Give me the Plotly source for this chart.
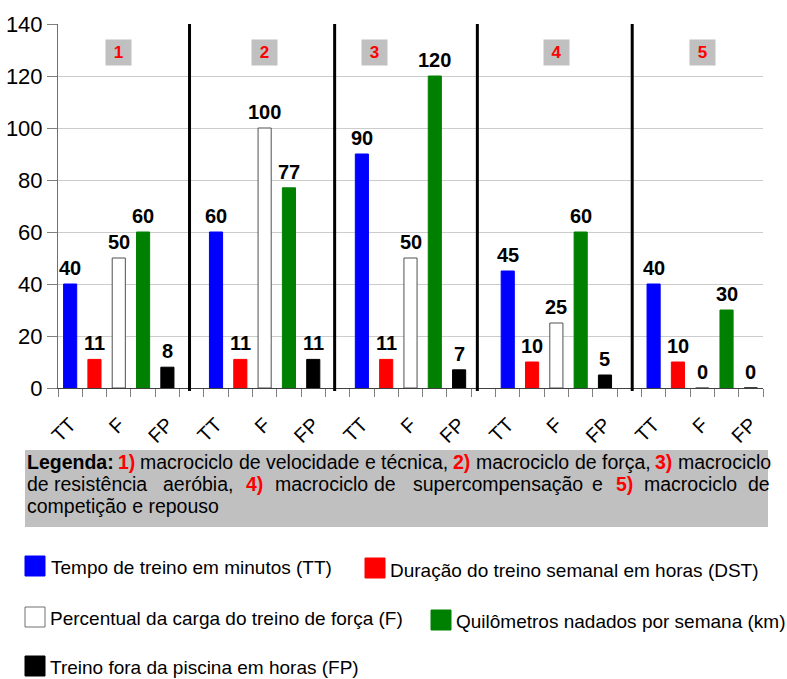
import plotly.graph_objects as go

# ---------------- data ----------------
groups = ["1", "2", "3", "4", "5"]
series_short = ["TT", "DST", "F", "km", "FP"]
series_names = [
    "Tempo de treino em minutos (TT)",
    "Duração do treino semanal em horas (DST)",
    "Percentual da carga do treino de força (F)",
    "Quilômetros nadados por semana (km)",
    "Treino fora da piscina em horas (FP)",
]
tt = [40, 60, 90, 45, 40]
dst = [11, 11, 11, 10, 10]
f_load = [50, 100, 50, 25, 0]
km = [60, 77, 120, 60, 30]
fp = [8, 11, 7, 5, 0]
slot_labels = ["TT", "", "F", "", "FP"]
y_ticks = [0, 20, 40, 60, 80, 100, 120, 140]
legend_title = "Legenda:"

series_values = [tt, dst, f_load, km, fp]
fills = ["#0000ff", "#ff0000", "#ffffff", "#008000", "#000000"]
outlines = ["#0000ff", "#ff0000", "#505050", "#008000", "#000000"]

FONT = "Liberation Sans, Arial, sans-serif"
W, H = 787, 679
L, R, T, B = 58, 763, 24, 388
SLOTS = 6
n_cat = len(groups) * SLOTS - 1


def px2x(px):
    return (px - L) / (R - L)


def py2y(py):
    return (B - py) / (B - T)


def pos(g, s):
    return g * SLOTS + s + 1


fig = go.Figure()
annotations = []
shapes = []

for s, (vals, name) in enumerate(zip(series_values, series_short)):
    xs = [pos(g, s) for g in range(len(groups))]
    fig.add_trace(go.Bar(
        x=xs, y=vals, name=name, width=0.54,
        marker=dict(color=fills[s], line=dict(color=outlines[s], width=1)),
        showlegend=False, hoverinfo="y",
    ))
    for x, v in zip(xs, vals):
        annotations.append(dict(
            x=x, y=v, xref="x", yref="y", text=str(v), showarrow=False,
            yanchor="bottom", yshift=3,
            font=dict(family=FONT, size=20, color="black", weight="bold"),
        ))

# group separators (thick black lines)
for xsep in [5.91, 11.88, 17.75, 24.12]:
    shapes.append(dict(type="line", xref="x", yref="paper", x0=xsep, x1=xsep,
                       y0=-0.008, y1=1, line=dict(color="black", width=3)))

# group number boxes
group_slot = [2, 2, 0.5, 2, 2]
for g, lab in enumerate(groups):
    annotations.append(dict(
        x=g * SLOTS + group_slot[g] + 1, y=py2y(39.5), xref="x", yref="paper",
        text=lab, showarrow=False, bgcolor="#c0c0c0", width=25, height=25,
        borderpad=0, font=dict(family=FONT, size=17, color="#ff0000", weight="bold"),
    ))

# legend box
shapes.append(dict(type="rect", xref="paper", yref="paper",
                   x0=px2x(25), x1=px2x(768), y0=py2y(450), y1=py2y(527),
                   fillcolor="#c0c0c0", line=dict(width=0), layer="below"))

BOXF = 19.5
line_segments = [
    (462, [(26, legend_title, "black", True), (117, "1)", "#ff0000", True),
           (139, "macrociclo", "black", False), (238, "de", "black", False),
           (265, "velocidade", "black", False), (364, "e", "black", False),
           (380, "técnica,", "black", False),
           (452, "2)", "#ff0000", True), (475, "macrociclo", "black", False),
           (574, "de", "black", False), (601, "força,", "black", False),
           (654, "3)", "#ff0000", True), (677, "macrociclo", "black", False)]),
    (484, [(26, "de", "black", False), (53, "resistência", "black", False),
           (162, "aeróbia,", "black", False), (245, "4)", "#ff0000", True),
           (274, "macrociclo", "black", False), (373, "de", "black", False),
           (412, "supercompensação", "black", False), (591, "e", "black", False),
           (615, "5)", "#ff0000", True), (643, "macrociclo", "black", False),
           (747, "de", "black", False)]),
    (506, [(26, "competição e repouso", "black", False)]),
]
for py, segs in line_segments:
    for px, txt, col, bold in segs:
        annotations.append(dict(
            x=px2x(px), y=py2y(py), xref="paper", yref="paper", text=txt,
            showarrow=False, xanchor="left", yanchor="middle", borderpad=0,
            font=dict(family=FONT, size=BOXF, color=col,
                      weight="bold" if bold else "normal"),
        ))

# series legend (squares + labels)
legend_items = [
    (25, 556, 50, 567),
    (365, 558, 389, 570),
    (25, 607, 49, 618),
    (431, 610, 455, 621),
    (25, 656, 49, 667),
]
for s, (sx, sy, tx, ty) in enumerate(legend_items):
    shapes.append(dict(type="rect", xref="paper", yref="paper",
                       x0=px2x(sx), x1=px2x(sx + 20), y0=py2y(sy), y1=py2y(sy + 20),
                       fillcolor=fills[s],
                       line=dict(color="#707070" if s == 2 else fills[s], width=1)))
    annotations.append(dict(
        x=px2x(tx), y=py2y(ty), xref="paper", yref="paper", text=series_names[s],
        showarrow=False, xanchor="left", yanchor="middle", borderpad=0,
        font=dict(family=FONT, size=19, color="black"),
    ))

tickvals = [pos(g, s) for g in range(len(groups)) for s in range(len(slot_labels)) if slot_labels[s]]
ticktext = [slot_labels[s] for g in range(len(groups)) for s in range(len(slot_labels)) if slot_labels[s]]

fig.update_layout(
    width=W, height=H,
    margin=dict(l=L, r=W - R, t=T, b=H - B, autoexpand=False),
    paper_bgcolor="white", plot_bgcolor="white",
    font=dict(family=FONT, color="black"),
    barmode="overlay",
    annotations=annotations, shapes=shapes,
    xaxis=dict(
        range=[0.5, n_cat + 0.5], tickmode="array", tickvals=tickvals, ticktext=ticktext,
        tickangle=-45, tickfont=dict(size=20, family=FONT, color="black"),
        ticks="outside", ticklen=16, tickcolor="rgba(0,0,0,0)", automargin=False,
        showgrid=False, zeroline=False, showline=True, linecolor="#404040", linewidth=1,
        minor=dict(tickmode="array", tickvals=[i + 0.5 for i in range(n_cat + 1)],
                   ticks="outside", ticklen=8, tickcolor="#808080", showgrid=False),
        fixedrange=True,
    ),
    yaxis=dict(
        range=[0, 140], tickmode="array", tickvals=y_ticks, automargin=False,
        tickfont=dict(size=22, family=FONT, color="black"),
        ticks="outside", ticklen=10, tickcolor="#808080",
        showgrid=True, gridcolor="#cccccc", gridwidth=1, zeroline=False,
        showline=True, linecolor="#707070", linewidth=1, fixedrange=True,
    ),
)

fig.write_html(
    "out.html",
    config={"displayModeBar": False},
    post_script="document.body.style.margin='0px';document.body.style.overflow='hidden';",
)
